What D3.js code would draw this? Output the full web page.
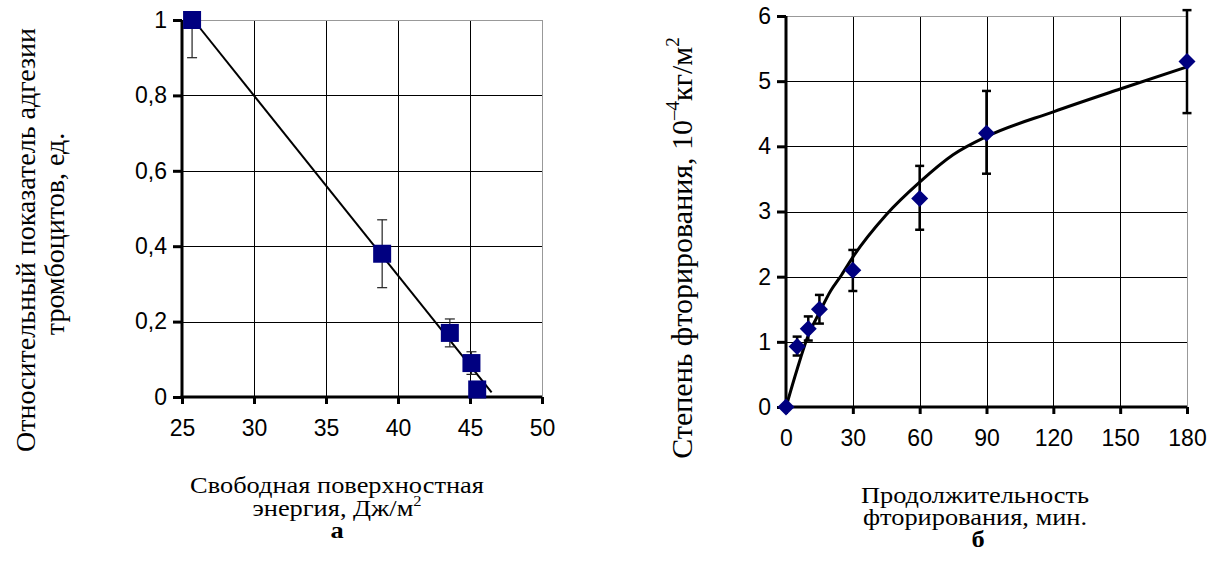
<!DOCTYPE html>
<meta charset="utf-8">
<style>
    body { margin: 0; background: #fff; }
    .tick-label { font: 23px "Liberation Sans", Arial, sans-serif; fill: #000; }
    .title { font-family: "Liberation Serif", "Times New Roman", serif; fill: #000; }
    .grid line { stroke: #000; stroke-width: 1px; shape-rendering: crispEdges; }
    .frame { fill: none; stroke: #999; stroke-width: 1px; shape-rendering: crispEdges; }
    .axis-line { stroke: #000; stroke-width: 3px; }
</style>
<body>
<script src="https://d3js.org/d3.v7.min.js"></script>
<script>
    // --- chart a: platelet adhesion vs surface energy ---
    var energy = [25.7, 38.9, 43.6, 45.1, 45.5];
    var adhesion = [1.0, 0.38, 0.17, 0.09, 0.02];
    var adhesionErr = [0.1, 0.09, 0.037, 0.03, 0.01];
    var fitEnergy = [25.8, 46.5];
    var fitAdhesion = [1.0, 0.012];
    var xTicksA = [25, 30, 35, 40, 45, 50];
    var yTicksA = [0, 0.2, 0.4, 0.6, 0.8, 1];

    // --- chart b: fluorination degree vs time ---
    var minutes = [0, 5, 10, 15, 30, 60, 90, 180];
    var degree = [0, 0.93, 1.2, 1.5, 2.1, 3.2, 4.2, 5.3];
    var degreeLo = [0, 0.79, 1.02, 1.28, 1.78, 2.72, 3.58, 4.51];
    var degreeHi = [0, 1.08, 1.39, 1.72, 2.41, 3.7, 4.85, 6.09];
    var curveMinutes = [0, 5, 10, 15, 20, 25, 30, 45, 60, 75, 90, 120, 150, 180];
    var curveDegree = [0, 0.58, 1.1, 1.45, 1.78, 2.03, 2.3, 2.95, 3.45, 3.87, 4.15, 4.53, 4.88, 5.22];
    var xTicksB = [0, 30, 60, 90, 120, 150, 180];
    var yTicksB = [0, 1, 2, 3, 4, 5, 6];

    var svg = d3.select("body").append("svg")
        .attr("width", 1215)
        .attr("height", 567);

    var fmt = function(v) { return String(v).replace(".", ","); };

    function drawFrame(g, x, y, xTicks, yTicks, id) {
        var x0 = x.range()[0], x1 = x.range()[1];
        var y0 = y.range()[0], y1 = y.range()[1];

        g.append("clipPath").attr("id", id)
          .append("rect")
            .attr("x", x0).attr("y", y1)
            .attr("width", x1 - x0).attr("height", y0 - y1);

        var grid = g.append("g").attr("class", "grid");
        grid.selectAll(".gx")
            .data(xTicks.slice(1, -1))
            .enter().append("line")
              .attr("x1", d => Math.round(x(d)) + 0.5).attr("x2", d => Math.round(x(d)) + 0.5)
              .attr("y1", y0).attr("y2", y1);
        grid.selectAll(".gy")
            .data(yTicks.slice(1, -1))
            .enter().append("line")
              .attr("y1", d => Math.round(y(d)) + 0.5).attr("y2", d => Math.round(y(d)) + 0.5)
              .attr("x1", x0).attr("x2", x1);

        g.append("rect").attr("class", "frame")
            .attr("x", x0).attr("y", Math.round(y1) + 0.5)
            .attr("width", Math.round(x1) - x0 + 0.5).attr("height", y0 - y1);
    }

    function drawAxes(g, x, y, xTicks, yTicks, yFmt) {
        var x0 = x.range()[0], y0 = y.range()[0];
        var xAxis = d3.axisBottom(x).tickValues(xTicks).tickSize(7).tickPadding(16);
        var yAxis = d3.axisLeft(y).tickValues(yTicks).tickSize(9).tickPadding(6).tickFormat(yFmt);

        var ga = g.append("g").attr("transform", "translate(0," + y0 + ")").call(xAxis);
        var gb = g.append("g").attr("transform", "translate(" + x0 + ",0)").call(yAxis);
        [ga, gb].forEach(function(a) {
            a.select(".domain").remove();
            a.selectAll(".tick line").attr("stroke", "#000").attr("stroke-width", 3);
            a.selectAll(".tick text").attr("class", "tick-label").attr("fill", "#000");
        });

        g.append("line").attr("class", "axis-line")
            .attr("x1", x0).attr("x2", x0)
            .attr("y1", y0 + 1.5).attr("y2", y.range()[1]);
        g.append("line").attr("class", "axis-line")
            .attr("x1", x0 - 1.5).attr("x2", x.range()[1])
            .attr("y1", y0).attr("y2", y0);
    }

    // ===== chart a =====
    var xA = d3.scaleLinear().domain([25, 50]).range([182, 542]);
    var yA = d3.scaleLinear().domain([0, 1]).range([397, 20]);
    var gA = svg.append("g");
    drawFrame(gA, xA, yA, xTicksA, yTicksA, "clipA");

    gA.append("path")
        .datum(fitEnergy.map((e, i) => [e, fitAdhesion[i]]))
        .attr("fill", "none")
        .attr("stroke", "#000")
        .attr("stroke-width", 2)
        .attr("d", d3.line().x(d => xA(d[0])).y(d => yA(d[1])));

    var errA = gA.append("g").attr("clip-path", "url(#clipA)")
        .attr("stroke", "#222").attr("stroke-width", 1.2);
    energy.forEach(function(e, i) {
        var cx = xA(e);
        var lo = yA(adhesion[i] - adhesionErr[i]), hi = yA(adhesion[i] + adhesionErr[i]);
        errA.append("line").attr("x1", cx).attr("x2", cx).attr("y1", lo).attr("y2", hi);
        errA.append("line").attr("x1", cx - 5).attr("x2", cx + 5).attr("y1", lo).attr("y2", lo);
        errA.append("line").attr("x1", cx - 5).attr("x2", cx + 5).attr("y1", hi).attr("y2", hi);
    });

    drawAxes(gA, xA, yA, xTicksA, yTicksA, fmt);

    gA.selectAll(".sq")
        .data(energy)
        .enter().append("rect")
          .attr("x", (d) => xA(d) - 9)
          .attr("y", (d, i) => yA(adhesion[i]) - 9)
          .attr("width", 18).attr("height", 18)
          .attr("fill", "#000080");

    // ===== chart b =====
    var xB = d3.scaleLinear().domain([0, 180]).range([786, 1187]);
    var yB = d3.scaleLinear().domain([0, 6]).range([407, 16]);
    var gB = svg.append("g");
    drawFrame(gB, xB, yB, xTicksB, yTicksB, "clipB");

    var errB = gB.append("g").attr("stroke", "#000").attr("stroke-width", 2.5);
    minutes.forEach(function(m, i) {
        if (degreeHi[i] === degreeLo[i]) return;
        var cx = xB(m);
        var lo = yB(degreeLo[i]), hi = yB(degreeHi[i]);
        errB.append("line").attr("x1", cx).attr("x2", cx).attr("y1", lo).attr("y2", hi);
        errB.append("line").attr("x1", cx - 4.5).attr("x2", cx + 4.5).attr("y1", lo).attr("y2", lo);
        errB.append("line").attr("x1", cx - 4.5).attr("x2", cx + 4.5).attr("y1", hi).attr("y2", hi);
    });

    gB.append("path")
        .datum(curveMinutes.map((m, i) => [m, curveDegree[i]]))
        .attr("fill", "none")
        .attr("stroke", "#000")
        .attr("stroke-width", 3)
        .attr("d", d3.line().curve(d3.curveMonotoneX).x(d => xB(d[0])).y(d => yB(d[1])));

    drawAxes(gB, xB, yB, xTicksB, yTicksB, fmt);

    gB.selectAll(".dm")
        .data(minutes)
        .enter().append("path")
          .attr("transform", (d, i) => "translate(" + xB(d) + "," + yB(degree[i]) + ")")
          .attr("d", "M0,-8.5L8.5,0L0,8.5L-8.5,0Z")
          .attr("fill", "#000080");

    // ===== titles =====
    function vTitle(x, y, size) {
        return svg.append("text").attr("class", "title")
            .attr("text-anchor", "middle")
            .style("font-size", size + "px")
            .attr("transform", "translate(" + x + "," + y + ") rotate(-90)");
    }
    // the source's horizontal captions run a little wider than Liberation Serif
    function hTitle(x, y, bold) {
        return svg.append("text").attr("class", "title")
            .attr("text-anchor", "middle")
            .attr("transform", "translate(" + x + "," + y + ") scale(1.1,1)")
            .style("font-size", "24px")
            .style("font-weight", bold ? "bold" : "normal");
    }
    function sup(t, s, size) {
        t.append("tspan").style("font-size", size + "px").attr("dy", -size * 0.7).text(s);
        return t.append("tspan").attr("dy", size * 0.7);
    }

    vTitle(35, 240, 28).text("Относительный показатель адгезии");
    vTitle(64, 234, 28).text("тромбоцитов, ед.");

    var t = vTitle(692, 248, 30);
    t.append("tspan").text("Степень фторирования, 10");
    sup(t, "–4", 19).text("кг/м");
    sup(t, "2", 19);

    hTitle(337, 493).text("Свободная поверхностная");
    t = hTitle(337, 516);
    t.append("tspan").text("энергия, Дж/м");
    sup(t, "2", 15);
    hTitle(337, 538, true).text("а");

    hTitle(975, 503).text("Продолжительность");
    hTitle(975, 525).text("фторирования, мин.");
    hTitle(978, 547, true).text("б");
</script>
</body>
